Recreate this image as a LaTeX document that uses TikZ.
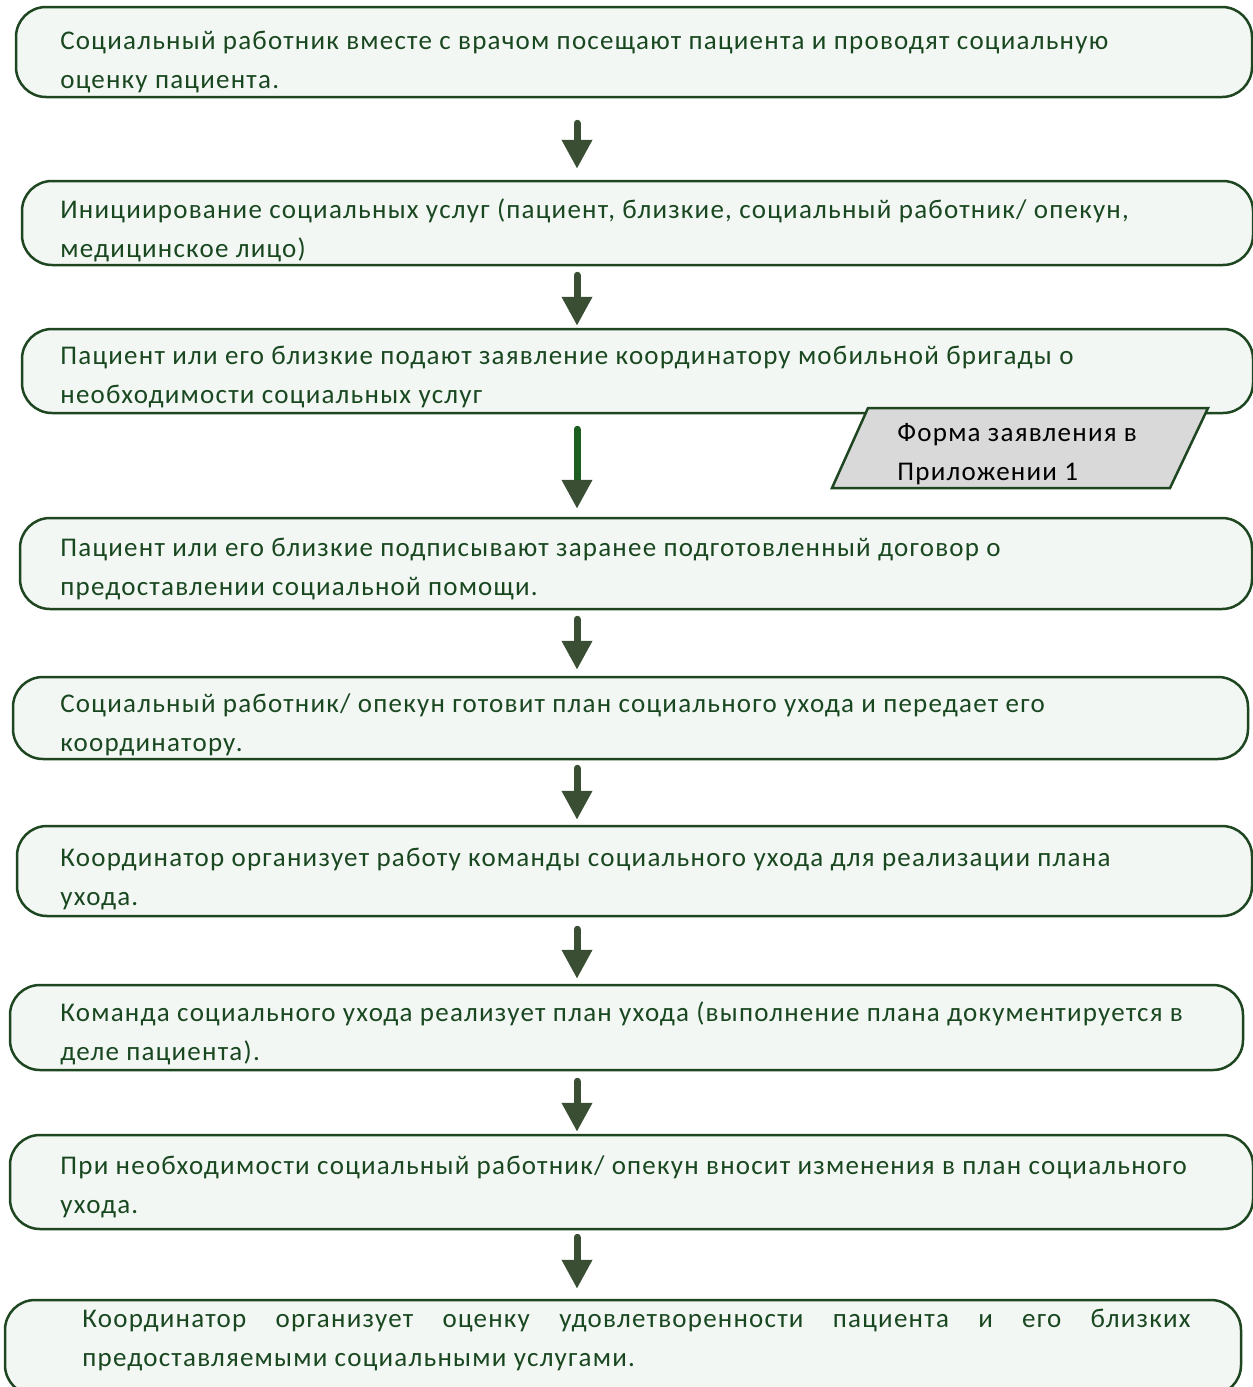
\documentclass[tikz,border=0pt]{standalone}
\usepackage{fontspec}
\setmainfont{Carlito}[LetterSpace=4.5]
\usetikzlibrary{calc, positioning, arrows.meta}
\definecolor{boxline}{RGB}{30,70,32}
\definecolor{boxfill}{RGB}{243,247,244}
\definecolor{txtgreen}{RGB}{25,72,32}
\definecolor{headgreen}{RGB}{58,78,51}
\definecolor{shaftgreen}{RGB}{27,94,32}
\definecolor{formfill}{RGB}{217,217,217}
\tikzstyle{stepbox}=[draw=boxline, fill=boxfill, line width=1.25pt, rounded corners=15pt, inner sep=0pt]
\tikzstyle{steptext}=[anchor=base west, align=left, inner sep=0pt, text=txtgreen, font=\fontsize{13.5}{19.5}\selectfont]
\tikzstyle{flow}=[line width=3.5pt, draw=headgreen, line cap=round, -{Triangle[length=14.5pt, width=14.5pt, color=headgreen]}]
\begin{document}
\begin{tikzpicture}[x=0.5pt, y=-0.5pt]
\useasboundingbox (0,0) rectangle (1253,1387);
\coordinate (ax) at (577,0);
\node[stepbox, minimum width=618pt, minimum height=45pt] (s1) at (634,52) {};
\node[stepbox, minimum width=615.5pt, minimum height=42pt] (s2) at (637.5,223) {};
\node[stepbox, minimum width=615.5pt, minimum height=42pt] (s3) at (637.5,371) {};
\node[stepbox, minimum width=616pt, minimum height=45.5pt] (s4) at (636,563.5) {};
\node[stepbox, minimum width=617.5pt, minimum height=41pt] (s5) at (630.5,718) {};
\node[stepbox, minimum width=617.5pt, minimum height=45pt] (s6) at (634.5,871) {};
\node[stepbox, minimum width=616.5pt, minimum height=42.5pt] (s7) at (626.5,1027.5) {};
\node[stepbox, minimum width=621.5pt, minimum height=47pt] (s8) at (631.5,1182) {};
\node[stepbox, minimum width=618pt, minimum height=47.5pt] (s9) at (623,1347.5) {};

\draw[draw=boxline, fill=formfill, line width=1.25pt] (868,408) -- (1208,408) -- (1170,488) -- (832,488) -- cycle;
\node[steptext, text=black] (form) at (897,480) {Форма заявления в\\Приложении 1};

\node[steptext] (t1) at (60,88) {Социальный работник вместе с врачом посещают пациента и проводят социальную\\оценку пациента.};
\node[steptext] (t2) at (60,257) {Инициирование социальных услуг (пациент, близкие, социальный работник/ опекун,\\медицинское лицо)};
\node[steptext] (t3) at (60,403) {Пациент или его близкие подают заявление координатору мобильной бригады о\\необходимости социальных услуг};
\node[steptext] (t4) at (60,595) {Пациент или его близкие подписывают заранее подготовленный договор о\\предоставлении социальной помощи.};
\node[steptext] (t5) at (60,751) {Социальный работник/ опекун готовит план социального ухода и передает его\\координатору.};
\node[steptext] (t6) at (60,905) {Координатор организует работу команды социального ухода для реализации плана\\ухода.};
\node[steptext] (t7) at (60,1060) {Команда социального ухода реализует план ухода (выполнение плана документируется в\\деле пациента).};
\node[steptext] (t8) at (60,1213) {При необходимости социальный работник/ опекун вносит изменения в план социального\\ухода.};
\node[steptext, text width=554pt, align=justify] (t9) at (82,1327) {Координатор организует оценку удовлетворенности пациента и его близких\linebreak предоставляемыми социальными услугами.};

\draw[flow] ($(s1.south -| ax)+(0,25)$) -- ($(s2.north -| ax)+(0,-11)$);
\draw[flow] ($(s2.south -| ax)+(0,9)$) -- ($(s3.north -| ax)+(0,-2)$);
\draw[flow, draw=shaftgreen] ($(s3.south -| ax)+(0,15)$) -- ($(s4.north -| ax)+(0,-8)$);
\draw[flow] ($(s4.south -| ax)+(0,9)$) -- ($(s5.north -| ax)+(0,-6)$);
\draw[flow] ($(s5.south -| ax)+(0,8)$) -- ($(s6.north -| ax)+(0,-5)$);
\draw[flow] ($(s6.south -| ax)+(0,12)$) -- ($(s7.north -| ax)+(0,-5)$);
\draw[flow] ($(s7.south -| ax)+(0,10)$) -- ($(s8.north -| ax)+(0,-2)$);
\draw[flow] ($(s8.south -| ax)+(0,7)$) -- ($(s9.north -| ax)+(0,-10)$);
\end{tikzpicture}
\end{document}
